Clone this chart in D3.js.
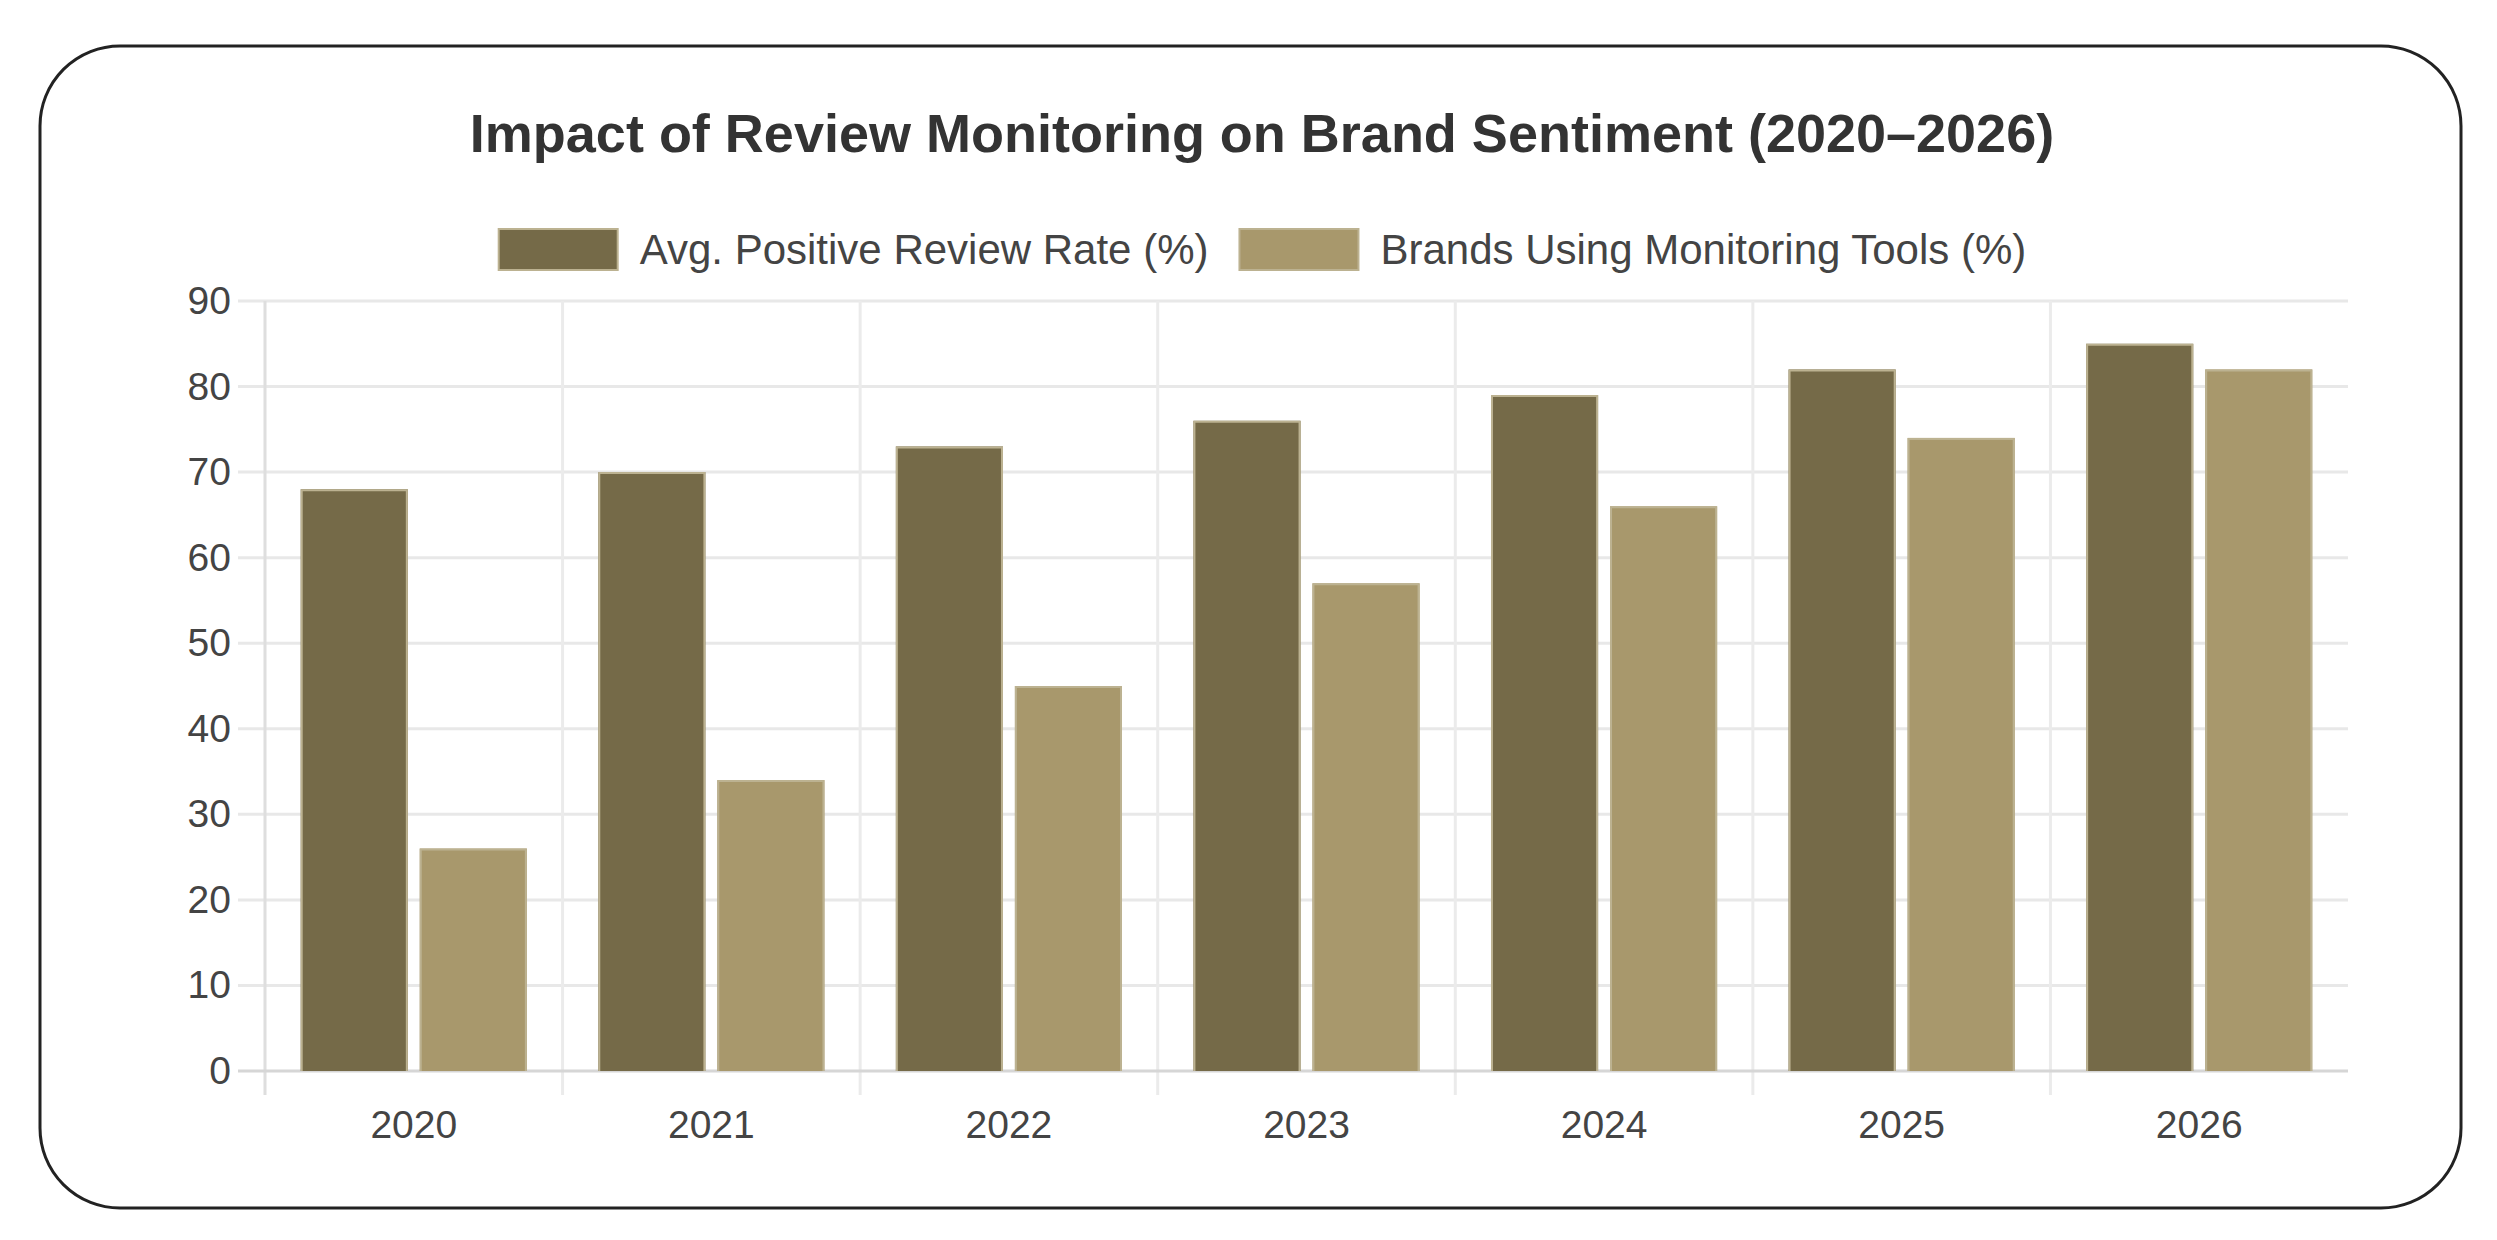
<!DOCTYPE html>
<html>
<head>
<meta charset="utf-8">
<script src="https://cdn.jsdelivr.net/npm/d3@7"></script>
<style>
  html, body { margin: 0; padding: 0; background: #fff; }
  svg { display: block; font-family: "Liberation Sans", Arial, Helvetica, sans-serif; }
</style>
</head>
<body>
<svg id="chart"></svg>
<script>
// data
const years = ['2020', '2021', '2022', '2023', '2024', '2025', '2026'];
const positiveRate = [68, 70, 73, 76, 79, 82, 85];
const monitoringUse = [26, 34, 45, 57, 66, 74, 82];
const seriesNames = ['Avg. Positive Review Rate (%)', 'Brands Using Monitoring Tools (%)'];
const yTicks = [0, 10, 20, 30, 40, 50, 60, 70, 80, 90];
const titleText = 'Impact of Review Monitoring on Brand Sentiment (2020–2026)';

const W = 2497, H = 1240;
const plot = { left: 265, right: 2348, top: 301, bottom: 1071 };
const centerX = 1262;
const fills = ['#756a48', '#a8986c'];
const edge = '#bcb291';

const svg = d3.select('#chart')
  .attr('width', W)
  .attr('height', H);

svg.append('rect')
  .attr('width', W).attr('height', H)
  .attr('fill', '#fff');

// rounded frame
svg.append('rect')
  .attr('x', 40).attr('y', 46)
  .attr('width', 2421).attr('height', 1162)
  .attr('rx', 80).attr('ry', 80)
  .attr('fill', 'none')
  .attr('stroke', '#222')
  .attr('stroke-width', 3);

// title
svg.append('text')
  .attr('x', centerX).attr('y', 152)
  .attr('text-anchor', 'middle')
  .attr('font-size', 54)
  .attr('font-weight', 'bold')
  .attr('fill', '#333')
  .text(titleText);

const x0 = d3.scaleBand()
  .domain(years)
  .range([plot.left, plot.right])
  .padding(0);

const groupW = x0.bandwidth() * 0.8;
const x1 = d3.scaleBand()
  .domain(seriesNames)
  .range([x0.bandwidth() * 0.1, x0.bandwidth() * 0.1 + groupW])
  .padding(0);
const barW = x1.bandwidth() * 0.9;
const barOff = x1.bandwidth() * 0.05;

const y = d3.scaleLinear()
  .domain([0, 90])
  .range([plot.bottom, plot.top]);

// horizontal grid
svg.append('g')
  .selectAll('line')
  .data(yTicks.filter(d => d > 0))
  .enter().append('line')
  .attr('x1', plot.left - 27).attr('x2', plot.right)
  .attr('y1', d => y(d)).attr('y2', d => y(d))
  .attr('stroke', '#e8e8e8')
  .attr('stroke-width', 3);

// vertical grid at category boundaries
svg.append('g')
  .selectAll('line')
  .data(years.slice(1))
  .enter().append('line')
  .attr('x1', d => x0(d)).attr('x2', d => x0(d))
  .attr('y1', plot.top).attr('y2', plot.bottom + 24)
  .attr('stroke', '#ebebeb')
  .attr('stroke-width', 3);

// axis lines
svg.append('line')
  .attr('x1', plot.left).attr('x2', plot.left)
  .attr('y1', plot.top).attr('y2', plot.bottom + 24)
  .attr('stroke', '#dedede').attr('stroke-width', 3);
svg.append('line')
  .attr('x1', plot.left - 27).attr('x2', plot.right)
  .attr('y1', plot.bottom).attr('y2', plot.bottom)
  .attr('stroke', '#d6d6d6').attr('stroke-width', 3);

// bars
const rows = years.map((yr, i) => ({ year: yr, values: [positiveRate[i], monitoringUse[i]] }));

const groups = svg.append('g')
  .selectAll('g')
  .data(rows)
  .enter().append('g')
  .attr('transform', d => `translate(${x0(d.year)},0)`);

const bars = groups.selectAll('g')
  .data(d => d.values.map((v, j) => ({ name: seriesNames[j], value: v, j: j })))
  .enter().append('g');

bars.append('rect')
  .attr('x', d => x1(d.name) + barOff)
  .attr('y', d => y(d.value))
  .attr('width', barW)
  .attr('height', d => y(0) - y(d.value))
  .attr('fill', d => fills[d.j]);

bars.append('path')
  .attr('d', d => {
    const bx = x1(d.name) + barOff, by = y(d.value);
    return `M${bx + 1},${y(0)}V${by + 1}H${bx + barW - 1}V${y(0)}`;
  })
  .attr('fill', 'none')
  .attr('stroke', edge)
  .attr('stroke-width', 2);

// y axis
const yAxis = svg.append('g')
  .attr('transform', `translate(${plot.left},0)`)
  .call(d3.axisLeft(y).tickValues(yTicks).tickSize(0).tickPadding(34));
yAxis.select('.domain').remove();
yAxis.selectAll('text')
  .attr('font-size', 39)
  .attr('font-family', '"Liberation Sans", Arial, sans-serif')
  .attr('fill', '#444');

// x axis
const xAxis = svg.append('g')
  .attr('transform', `translate(0,${plot.bottom})`)
  .call(d3.axisBottom(x0).tickSize(0).tickPadding(39));
xAxis.select('.domain').remove();
xAxis.selectAll('text')
  .attr('font-size', 39)
  .attr('font-family', '"Liberation Sans", Arial, sans-serif')
  .attr('fill', '#444');

// legend
const legend = svg.append('g');
const items = legend.selectAll('g')
  .data(seriesNames)
  .enter().append('g');

items.append('rect')
  .attr('x', 1).attr('y', 229).attr('width', 119).attr('height', 41)
  .attr('fill', (d, i) => fills[i])
  .attr('stroke', edge)
  .attr('stroke-width', 2);

items.append('text')
  .attr('x', 142).attr('y', 264)
  .attr('font-size', 42)
  .attr('fill', '#444')
  .text(d => d);

// lay the legend out centered
let widths = [];
items.each(function() {
  widths.push(142 + d3.select(this).select('text').node().getComputedTextLength());
});
const gap = 30;
const total = d3.sum(widths) + gap * (widths.length - 1);
let cx = centerX - total / 2;
items.each(function(d, i) {
  d3.select(this).attr('transform', `translate(${cx},0)`);
  cx += widths[i] + gap;
});
</script>
</body>
</html>
